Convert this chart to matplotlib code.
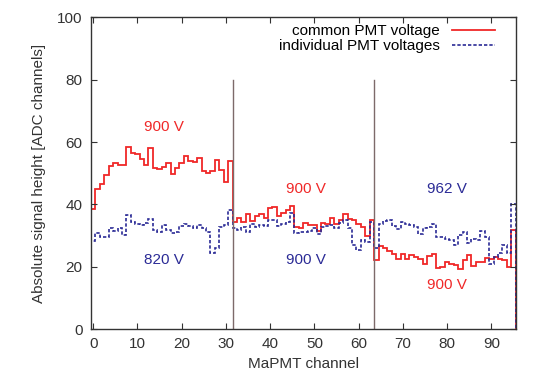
import numpy as np
import matplotlib
matplotlib.use("Agg")
import matplotlib.pyplot as plt

plt.rcParams['font.family'] = ['Liberation Sans', 'DejaVu Sans']

# MaPMT channels 0..95
channels = np.arange(96)

# signal height with one common PMT voltage (900 V everywhere)
common_voltage = [
    38.5, 44.8, 46.7, 49.4, 52.4, 53.2, 52.6, 52.8, 58.5, 56.4, 56.2, 54.5, 52.6, 58.2, 51.8, 51.3,
    52.1, 53.4, 49.8, 51.6, 53.2, 55.5, 53.9, 53.7, 54.8, 50.7, 50.2, 50.7, 54.3, 51.0, 47.3, 53.9,
    34.2, 35.6, 34.4, 36.8, 34.6, 36.4, 36.8, 35.6, 38.8, 39.1, 36.2, 37.2, 38.2, 39.4, 32.9, 32.4,
    34.0, 33.4, 33.4, 31.4, 33.9, 33.6, 35.6, 33.6, 35.0, 36.8, 35.2, 34.9, 33.7, 32.6, 29.9, 34.9,
    22.0, 26.6, 25.9, 25.2, 24.0, 22.5, 24.0, 22.4, 23.8, 23.0, 22.5, 21.0, 23.4, 24.0, 19.6, 19.8,
    21.6, 21.0, 20.4, 19.4, 22.0, 23.6, 20.2, 21.4, 21.6, 22.8, 22.6, 23.0, 22.6, 22.0, 20.0, 31.8,
]

# signal height with individual voltages per MaPMT (820 V / 900 V / 962 V)
individual_voltage = [
    28.2, 30.7, 29.6, 29.6, 32.3, 31.5, 32.3, 30.2, 36.6, 34.2, 33.7, 33.5, 33.9, 35.4, 31.7, 31.2,
    33.3, 31.8, 30.8, 31.2, 33.0, 33.6, 33.1, 32.3, 33.4, 32.5, 31.0, 24.4, 25.9, 32.9, 33.4, 38.2,
    32.3, 31.8, 32.6, 31.2, 33.6, 32.9, 33.4, 33.1, 34.9, 35.0, 33.0, 33.7, 34.3, 37.2, 30.8, 31.0,
    31.2, 31.6, 32.3, 30.4, 32.9, 33.1, 33.4, 32.3, 34.1, 35.0, 32.3, 27.0, 25.4, 28.6, 28.0, 34.3,
    26.0, 33.8, 34.6, 35.0, 33.2, 32.2, 34.2, 33.8, 33.4, 32.6, 30.4, 32.3, 32.9, 33.6, 29.6, 29.4,
    29.0, 28.6, 27.0, 30.2, 31.3, 27.6, 28.8, 28.6, 31.6, 29.4, 21.0, 23.0, 24.5, 27.0, 24.5, 40.0,
]

# MaPMT boundaries (32 channels per tube)
boundaries = [31.5, 63.5]

# voltage labels: text, x, y, which series
voltage_labels = [
    ("900 V", 16, 65, "common"),
    ("820 V", 16, 22, "individual"),
    ("900 V", 48, 45, "common"),
    ("900 V", 48, 22, "individual"),
    ("962 V", 80, 45, "individual"),
    ("900 V", 80, 14, "common"),
]

red = "#f02828"
blue = "#2b2b96"
colors = {"common": red, "individual": blue}

fig = plt.figure(figsize=(5.38, 3.77), dpi=100)
ax = fig.add_axes([0.1691, 0.1273, 0.7894, 0.8263])

edges = np.append(channels - 0.5, channels[-1] + 0.5)
ax.stairs(common_voltage, edges, color=red, lw=1.3, label="common PMT voltage")
ax.stairs(individual_voltage, edges, color=blue, lw=1.2, ls=(0, (2, 1.2)),
          label="individual PMT voltages")

for b in boundaries:
    ax.plot([b, b], [0, 80], color="#7d6a6a", lw=1.0)

for txt, x, y, s in voltage_labels:
    ax.text(x, y, txt, color=colors[s], fontsize=11, ha="center", va="center")

ax.set_xlim(-0.5, 95.5)
ax.set_ylim(0, 100)
ax.set_xticks(np.arange(0, 91, 10))
ax.set_yticks(np.arange(0, 101, 20))
ax.tick_params(direction="in", top=True, right=True, length=4, labelsize=11,
               colors="#333333", labelcolor="#333333", pad=6)
for sp in ax.spines.values():
    sp.set_color("#333333")
    sp.set_linewidth(1.0)

ax.set_xlabel("MaPMT channel", fontsize=11, color="#333333", labelpad=4)
ax.set_ylabel("Absolute signal height [ADC channels]", fontsize=11, color="#333333", labelpad=8)

ax.legend(loc="upper right", bbox_to_anchor=(0.977, 1.012), markerfirst=False, frameon=False,
          fontsize=11, handlelength=2.8, labelspacing=0.05, borderpad=0.2, handletextpad=0.8)

fig.savefig("out.png", dpi=100)
